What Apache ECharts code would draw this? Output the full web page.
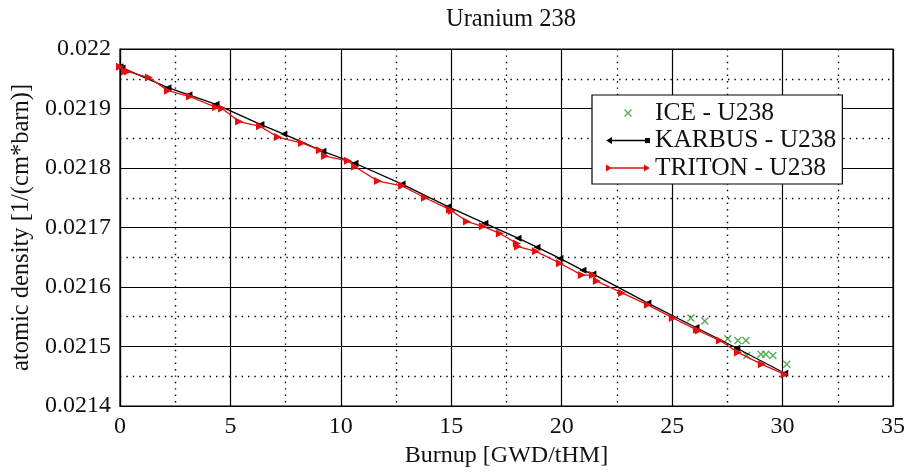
<!DOCTYPE html>
<html>
<head>
<meta charset="utf-8">
<script src="https://cdn.jsdelivr.net/npm/echarts@6/dist/echarts.min.js"></script>
<style>
html,body{margin:0;padding:0;background:#fff;}
#c{width:908px;height:473px;}
</style>
</head>
<body>
<div id="c"></div>
<script>
// ---- data ----
const tritonBurnup = [0, 0.23, 0.36, 1.31, 2.17, 3.17, 4.35, 4.62, 5.39, 6.34, 7.15, 8.24, 9.05, 9.28, 10.32, 10.64, 11.68, 12.77, 13.81, 14.94, 15.03, 15.71, 16.43, 17.2, 17.97, 18.02, 18.83, 19.92, 20.91, 21.41, 21.59, 22.73, 23.9, 25.03, 26.12, 26.21, 27.16, 27.98, 29.06, 30.1];
const tritonDensity = [0.02197, 0.021962, 0.021962, 0.021952, 0.02193, 0.02192, 0.021902, 0.0219, 0.021878, 0.02187, 0.021852, 0.021842, 0.02183, 0.02182, 0.021812, 0.021802, 0.021778, 0.02177, 0.02175, 0.02173, 0.021728, 0.02171, 0.021702, 0.02169, 0.021673, 0.021668, 0.02166, 0.02164, 0.02162, 0.02162, 0.02161, 0.02159, 0.02157, 0.021548, 0.021528, 0.021527, 0.02151, 0.02149, 0.02147, 0.021453];

const karbusBurnup = [0, 0.09, 2.17, 3.12, 4.35, 6.38, 7.42, 9.19, 10.64, 12.77, 14.85, 16.52, 18.02, 18.88, 19.92, 20.96, 21.41, 23.9, 26.08, 27.93, 30.1];
const karbusDensity = [0.02197, 0.021968, 0.021935, 0.021923, 0.021907, 0.021873, 0.021857, 0.021828, 0.021808, 0.021773, 0.021735, 0.021707, 0.021682, 0.021667, 0.021648, 0.021628, 0.021622, 0.021573, 0.021532, 0.021497, 0.021455];

const iceBurnup = [25.85, 26.48, 27.52, 27.98, 28.34, 28.38, 29.02, 29.24, 29.56, 30.19];
const iceDensity = [0.021548, 0.021543, 0.021513, 0.02151, 0.02151, 0.021485, 0.021487, 0.021487, 0.021485, 0.02147];

const seriesNames = ['ICE - U238', 'KARBUS - U238', 'TRITON - U238'];
const titleText = 'Uranium 238';
const xAxisTitle = 'Burnup [GWD/tHM]';
const yAxisTitle = 'atomic density [1/(cm*barn)]';

// ---- build ----
const zip = (a, b) => a.map((v, i) => [v, b[i]]);
const FONT = 'Liberation Serif';
const crossPath = 'path://M0,1L1,0L4,3L7,0L8,1L5,4L8,7L7,8L4,5L1,8L0,7L3,4Z';
const iceIcon = 'path://M0,4L0.01,4L0,4.01Z M18,1L19,0L22,3L25,0L26,1L23,4L26,7L25,8L22,5L19,8L18,7L21,4Z M44,4L43.99,4L44,4.01Z';
const karbusIcon = 'path://M0,4L6,0.5L6,3.3L39,3.3L39,1.5L44,1.5L44,6.5L39,6.5L39,4.7L6,4.7L6,7.5Z';
const tritonIcon = 'path://M0,0.5L6,4L0,7.5Z M5,3.3L38,3.3L38,0.5L44,4L38,7.5L38,4.7L5,4.7Z';

const dotted = {color: '#000', width: 1.4, type: [1.4, 5]};

const chart = echarts.init(document.getElementById('c'), null, {renderer: 'canvas'});
chart.setOption({
  animation: false,
  backgroundColor: '#fff',
  title: {
    text: titleText,
    left: 506, top: 2, textAlign: 'center',
    textStyle: {fontFamily: FONT, fontSize: 24.5, fontWeight: 'normal', color: '#111'}
  },
  grid: {left: 120, top: 49, width: 773, height: 360, show: true, borderColor: '#000', borderWidth: 1.2, containLabel: false},
  legend: {
    orient: 'vertical', left: 592, top: 95,
    padding: [5, 6, 3, 14],
    itemGap: 1.5, itemWidth: 44, itemHeight: 8,
    backgroundColor: '#fff', borderColor: '#000', borderWidth: 1.2,
    textStyle: {fontFamily: FONT, fontSize: 25.5, color: '#111'},
    data: [
      {name: seriesNames[0], icon: iceIcon},
      {name: seriesNames[1], icon: karbusIcon},
      {name: seriesNames[2], icon: tritonIcon}
    ]
  },
  xAxis: {
    type: 'value', min: 0, max: 35, interval: 5,
    name: xAxisTitle, nameLocation: 'middle', nameGap: 38,
    nameTextStyle: {fontFamily: FONT, fontSize: 24, color: '#111'},
    axisLine: {lineStyle: {color: '#000', width: 1.2}},
    axisTick: {show: false},
    axisLabel: {fontFamily: FONT, fontSize: 24, color: '#111', margin: 9},
    splitLine: {show: true, lineStyle: {color: '#000', width: 1.2}},
    minorTick: {show: false, splitNumber: 2},
    minorSplitLine: {show: true, lineStyle: dotted}
  },
  yAxis: {
    type: 'value', min: 0.0214, max: 0.022, interval: 0.0001,
    name: yAxisTitle, nameLocation: 'middle', nameGap: 84, nameRotate: 90,
    nameTextStyle: {fontFamily: FONT, fontSize: 24.5, color: '#111'},
    axisLine: {show: true, lineStyle: {color: '#000', width: 1.2}},
    axisTick: {show: false},
    axisLabel: {fontFamily: FONT, fontSize: 24, color: '#111', margin: 9,
      formatter: v => String(parseFloat(v.toFixed(5)))},
    splitLine: {show: true, lineStyle: {color: '#000', width: 1.2}},
    minorTick: {show: false, splitNumber: 2},
    minorSplitLine: {show: true, lineStyle: dotted}
  },
  series: [
    {
      name: seriesNames[0], type: 'scatter',
      data: zip(iceBurnup, iceDensity),
      symbol: crossPath, symbolSize: 8,
      itemStyle: {color: '#2e9a2e'}, z: 3
    },
    {
      name: seriesNames[1], type: 'line',
      data: zip(karbusBurnup, karbusDensity),
      symbol: 'triangle', symbolRotate: 90, symbolSize: 7, showSymbol: true,
      lineStyle: {color: '#000', width: 1.3},
      itemStyle: {color: '#000'}, z: 4
    },
    {
      name: seriesNames[2], type: 'line',
      data: zip(tritonBurnup, tritonDensity),
      symbol: 'triangle', symbolRotate: -90, symbolSize: 8, showSymbol: true,
      lineStyle: {color: '#e01010', width: 1.3},
      itemStyle: {color: '#e01010'}, z: 5
    }
  ]
});
</script>
</body>
</html>
